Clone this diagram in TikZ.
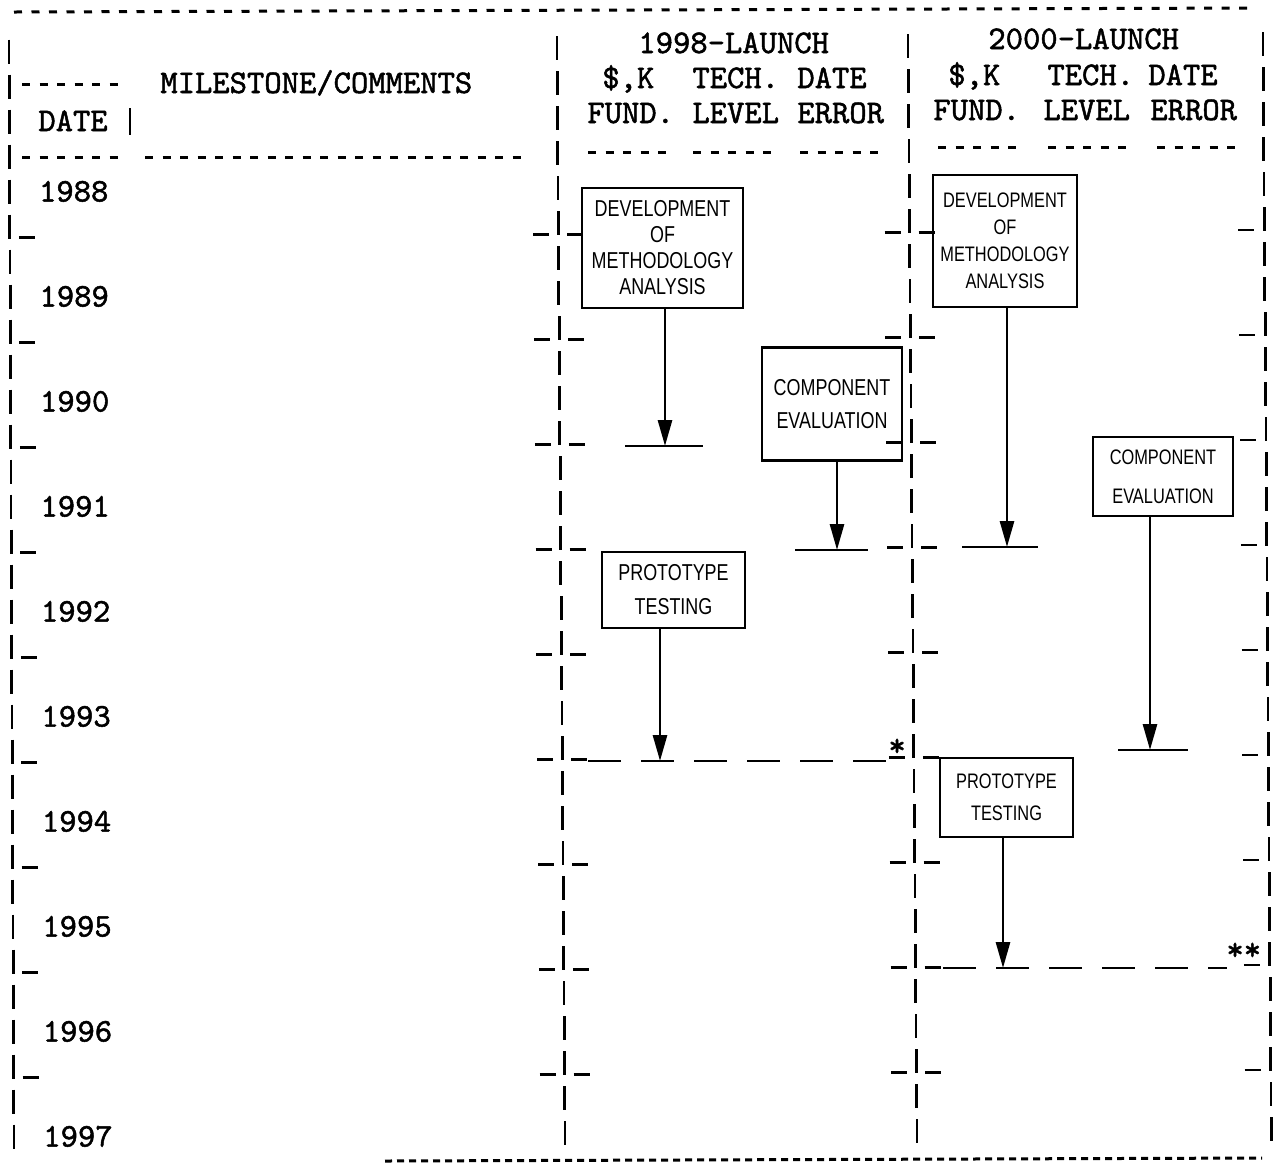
\documentclass[tikz,border=0pt]{standalone}
\usepackage{fontspec}
\newfontfamily\tw[FakeBold=1.5]{lmmono10-regular.otf}
\newfontfamily\hand[FakeStretch=0.78]{Liberation Sans}
\usetikzlibrary{arrows.meta}
\newcommand\tyDashes[3]{\foreach \i in {1,...,#3}{\draw[hy] ({#1+17.5*(\i-1)},#2) -- ({#1+8+17.5*(\i-1)},#2);}}
\begin{document}
\begin{tikzpicture}[x=0.5pt,y=-0.5pt,
  tt/.style={font=\tw\fontsize{16.5}{20}\selectfont, inner sep=0, anchor=base west},
  bar/.style={line width=1.4pt},
  hy/.style={line width=1.5pt},
  tick/.style={line width=1.4pt},
  box/.style={draw, line width=1.4pt, inner sep=0, align=center},
  arr/.style={line width=1.4pt, -{Triangle[width=7pt,length=13pt]}},
  endbar/.style={line width=1.2pt},
  longdash/.style={line width=1.4pt, dash pattern=on 16.5pt off 10pt},
]
\useasboundingbox (0,0) rectangle (1275,1169);

% outer dashed rules
\coordinate (tl) at (14,12); \coordinate (tr) at (1255,8);
\draw[hy, dash pattern=on 4pt off 4.75pt] (tl) -- (tr);
\coordinate (bl) at (385,1161); \coordinate (br) at (1262,1158);
\draw[hy, dash pattern=on 3.5pt off 2.5pt] (bl) -- (br);

% column bars (typewriter |)
\foreach \xo/\sl/\sh in {9/0.0045/0, 557/0.0073/-3.2, 908/0.0082/-5.3, 1263/0.0075/-7.5}{
  \foreach \n in {0,...,31}{
    \pgfmathsetmacro\yc{51.5+35*\n+\sh}
    \pgfmathsetmacro\xc{\xo+\sl*(\yc-40)}
    \draw[bar] ({\xc},{\yc-12}) -- ({\xc},{\yc+12});
  }
}
% ticks at year boundaries
\foreach \k in {0,...,8}{
  \pgfmathsetmacro\yc{51.5+35*(5+3*\k)+11}
  \pgfmathsetmacro\xc{9+0.0045*(\yc-40)}
  \draw[tick] ({\xc+9},{\yc}) -- ({\xc+25},{\yc});
  \foreach \xo/\sl/\sh in {557/0.0073/-3.2, 908/0.0082/-5.3}{
    \pgfmathsetmacro\yd{\yc+\sh}
    \pgfmathsetmacro\xd{\xo+\sl*(\yd-40)}
    \draw[tick] ({\xd-25},{\yd}) -- ({\xd-9},{\yd});
    \draw[tick] ({\xd+9},{\yd}) -- ({\xd+25},{\yd});
  }
  \pgfmathsetmacro\ye{\yc-7.5}
  \pgfmathsetmacro\xe{1263+0.0075*(\ye-40)}
  \draw[tick] ({\xe-26},{\ye}) -- ({\xe-10},{\ye});
}

% left header
\tyDashes{22}{84}{6}
\node[tt] (ms) at (160,93) {MILESTONE/COMMENTS};
\node[tt] (dt) at (38,131) {DATE};
\coordinate (dbt) at (130,108); \coordinate (dbb) at (130,135);
\draw[bar] (dbt) -- (dbb);
\tyDashes{22}{157}{6}
\tyDashes{145}{157}{22}

% years
\foreach \yr [count=\k from 0] in {1988,...,1997}{
  \pgfmathsetmacro\yc{191.5+105*\k}
  \pgfmathsetmacro\xc{38+0.0045*(\yc-40)}
  \node[tt] (y\yr) at ({\xc},{\yc+10}) {\yr};
}

% 1998 header
\node[tt] (h1a) at (638,53) {1998-LAUNCH};
\node[tt] (h1b) at (602,88) {\$,K};
\node[tt] (h1c) at (692,88) {TECH.};
\node[tt] (h1d) at (797,88) {DATE};
\node[tt] (h1e) at (587,123) {FUND.};
\node[tt] (h1f) at (692,123) {LEVEL};
\node[tt] (h1g) at (797,123) {ERROR};
\tyDashes{588}{152}{5}
\tyDashes{693}{152}{5}
\tyDashes{800}{152}{5}

% 2000 header
\node[tt] (h2a) at (988,49) {2000-LAUNCH};
\node[tt] (h2b) at (948,85) {\$,K};
\node[tt] (h2c) at (1047,85) {TECH.};
\node[tt] (h2d) at (1148,85) {DATE};
\node[tt] (h2e) at (933,120) {FUND.};
\node[tt] (h2f) at (1043,120) {LEVEL};
\node[tt] (h2g) at (1150,120) {ERROR};
\tyDashes{938}{147}{5}
\tyDashes{1048}{147}{5}
\tyDashes{1157}{147}{5}

% ---- 1998 launch boxes
\node[box, minimum width=80.5pt, minimum height=60pt, font=\hand\fontsize{11.5}{13}\selectfont] (d1) at (662.5,248) {DEVELOPMENT\\OF\\METHODOLOGY\\ANALYSIS};
\node[box, minimum width=70pt, minimum height=56.5pt, font=\hand\fontsize{11.5}{16.5}\selectfont] (c1) at (832,404) {COMPONENT\\EVALUATION};
\node[box, minimum width=71.5pt, minimum height=38pt, font=\hand\fontsize{11.5}{17}\selectfont] (p1) at (673.5,590) {PROTOTYPE\\TESTING};

\coordinate (b1l) at (625,446); \coordinate (b1r) at (703,446); \coordinate (e1) at (665,446);
\draw[endbar] (b1l) -- (b1r);
\draw[arr] (d1.south -| e1) -- (e1);

\coordinate (b2l) at (795,550); \coordinate (b2r) at (868,550); \coordinate (e2) at (837,550);
\draw[endbar] (b2l) -- (b2r);
\draw[arr] (c1.south -| e2) -- (e2);

\coordinate (s1a) at (588,761); \coordinate (s1b) at (888,761); \coordinate (e3) at (660,761);
\draw[longdash] (s1a) -- (s1b);
\draw[arr] (p1.south -| e3) -- (e3);
\node[tt] (st1) at (888,756) {*};

% ---- 2000 launch boxes
\node[box, minimum width=72pt, minimum height=66pt, font=\hand\fontsize{10.5}{13.5}\selectfont] (d2) at (1005,241) {DEVELOPMENT\\OF\\METHODOLOGY\\ANALYSIS};
\node[box, minimum width=70pt, minimum height=39.5pt, font=\hand\fontsize{10.5}{19.5}\selectfont] (c2) at (1163,476.5) {COMPONENT\\EVALUATION};
\node[box, minimum width=66.5pt, minimum height=39.5pt, font=\hand\fontsize{10.5}{16}\selectfont] (p2) at (1006.5,797.5) {PROTOTYPE\\TESTING};

\coordinate (b3l) at (962,547); \coordinate (b3r) at (1038,547); \coordinate (e4) at (1007,547);
\draw[endbar] (b3l) -- (b3r);
\draw[arr] (d2.south -| e4) -- (e4);

\coordinate (b4l) at (1118,750); \coordinate (b4r) at (1188,750); \coordinate (e5) at (1150,750);
\draw[endbar] (b4l) -- (b4r);
\draw[arr] (c2.south -| e5) -- (e5);

\coordinate (s2a) at (943,968); \coordinate (s2b) at (1227,968); \coordinate (e6) at (1003,968);
\draw[longdash] (s2a) -- (s2b);
\draw[arr] (p2.south -| e6) -- (e6);
\node[tt] (st2) at (1226,960) {**};
\end{tikzpicture}
\end{document}
